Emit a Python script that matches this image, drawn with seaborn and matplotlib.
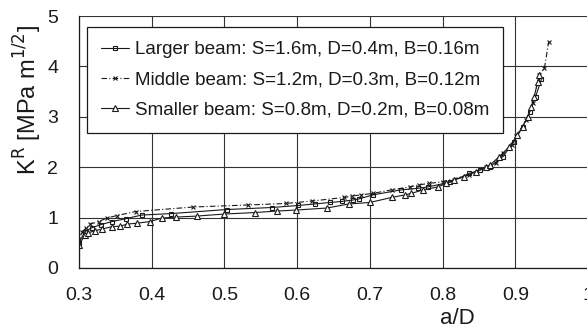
import pandas as pd
import matplotlib
matplotlib.use("Agg")
import matplotlib.pyplot as plt
import seaborn as sns

# values (a/D vs K^R)
larger_x = [0.300, 0.308, 0.318, 0.330, 0.345, 0.365, 0.386, 0.427, 0.503, 0.565,
            0.601, 0.624, 0.645, 0.661, 0.677, 0.685, 0.704, 0.743, 0.766, 0.780,
            0.810, 0.837, 0.851, 0.865, 0.883, 0.898, 0.910, 0.920, 0.928, 0.936]
larger_y = [0.50, 0.72, 0.80, 0.86, 0.92, 0.98, 1.05, 1.08, 1.16, 1.20,
            1.24, 1.27, 1.30, 1.32, 1.35, 1.37, 1.45, 1.55, 1.58, 1.61,
            1.70, 1.88, 1.94, 2.01, 2.21, 2.50, 2.80, 3.10, 3.40, 3.75]

middle_x = [0.300, 0.304, 0.310, 0.315, 0.327, 0.338, 0.352, 0.378, 0.457, 0.532,
            0.584, 0.621, 0.665, 0.676, 0.688, 0.704, 0.730, 0.755, 0.768, 0.782,
            0.800, 0.837, 0.860, 0.874, 0.883, 0.896, 0.901, 0.915, 0.924, 0.933,
            0.940, 0.946]
middle_y = [0.50, 0.72, 0.79, 0.87, 0.92, 0.99, 1.04, 1.12, 1.21, 1.25,
            1.28, 1.33, 1.40, 1.43, 1.45, 1.48, 1.55, 1.61, 1.65, 1.68,
            1.71, 1.85, 2.01, 2.08, 2.28, 2.44, 2.61, 2.94, 3.27, 3.83,
            3.96, 4.49]

smaller_x = [0.300, 0.308, 0.313, 0.322, 0.331, 0.345, 0.357, 0.366, 0.380, 0.397,
             0.414, 0.433, 0.462, 0.499, 0.542, 0.572, 0.599, 0.641, 0.671, 0.700,
             0.730, 0.748, 0.757, 0.773, 0.794, 0.805, 0.816, 0.830, 0.846, 0.860,
             0.865, 0.878, 0.892, 0.903, 0.910, 0.917, 0.922, 0.926, 0.931, 0.933]
smaller_y = [0.46, 0.65, 0.70, 0.74, 0.77, 0.82, 0.83, 0.87, 0.89, 0.92,
             0.99, 1.01, 1.03, 1.07, 1.10, 1.13, 1.15, 1.19, 1.27, 1.30,
             1.40, 1.45, 1.48, 1.55, 1.61, 1.68, 1.75, 1.81, 1.91, 2.01,
             2.04, 2.21, 2.41, 2.64, 2.80, 3.00, 3.20, 3.40, 3.70, 3.83]

labels = ["Larger beam: S=1.6m, D=0.4m, B=0.16m",
          "Middle beam: S=1.2m, D=0.3m, B=0.12m",
          "Smaller beam: S=0.8m, D=0.2m, B=0.08m"]
x_ticks = [0.3, 0.4, 0.5, 0.6, 0.7, 0.8, 0.9, 1.0]
x_tick_labels = ["0.3", "0.4", "0.5", "0.6", "0.7", "0.8", "0.9", "1"]
y_ticks = [0, 1, 2, 3, 4, 5]

sns.set_style("white")
plt.rcParams["font.family"] = ["Liberation Sans", "DejaVu Sans"]

fig = plt.figure(figsize=(5.87, 3.32), dpi=100)
# the original is cropped on the right, so the axes run slightly past the edge
ax = fig.add_axes([0.1346, 0.1928, 0.8671, 0.759])

ink = "#1a1a1a"
sns.lineplot(x=larger_x, y=larger_y, ax=ax, sort=False, color=ink, linewidth=0.8,
             marker="s", markersize=3.5, markerfacecolor="none",
             markeredgecolor=ink, markeredgewidth=0.8, label=labels[0])
sns.lineplot(x=middle_x, y=middle_y, ax=ax, sort=False, color=ink, linewidth=0.8,
             linestyle=(0, (5, 2, 1, 2)), marker="x", markersize=3,
             markeredgecolor=ink, markeredgewidth=0.8, label=labels[1])
sns.lineplot(x=smaller_x, y=smaller_y, ax=ax, sort=False, color=ink, linewidth=0.8,
             marker="^", markersize=5, markerfacecolor="white",
             markeredgecolor=ink, markeredgewidth=0.8, label=labels[2])

ax.set_xlim(0.3, 1.0)
ax.set_ylim(0, 5)
ax.set_xticks(x_ticks)
ax.set_xticklabels(x_tick_labels)
ax.set_yticks(y_ticks)
ax.tick_params(axis="both", labelsize=14, direction="inout", length=6,
               width=0.8, color=ink, labelcolor=ink)
ax.tick_params(axis="x", pad=11)
ax.tick_params(axis="y", pad=12)
ax.grid(True, color="#333333", linewidth=0.8)
for side in ["top", "right"]:
    ax.spines[side].set_visible(False)
for side in ["left", "bottom"]:
    ax.spines[side].set_color(ink)
    ax.spines[side].set_linewidth(0.9)

ax.set_xlabel("a/D", fontsize=16, color=ink)
ax.xaxis.set_label_coords(0.743, -0.16)
ax.set_ylabel(r"K$^{\mathrm{R}}$ [MPa m$^{\mathrm{1/2}}$]", fontsize=17, color=ink)
ax.yaxis.set_label_coords(-0.068, 0.667)

leg = ax.legend(loc="upper left", bbox_to_anchor=(0.0157, 0.956), borderaxespad=0,
                fontsize=13.5, frameon=True, fancybox=False, handlelength=1.5,
                handletextpad=0.3, labelspacing=0.7, borderpad=0.75)
leg.get_frame().set_edgecolor(ink)
leg.get_frame().set_linewidth(0.9)
leg.get_frame().set_alpha(1)
for t in leg.get_texts():
    t.set_color(ink)

fig.savefig("out.png", dpi=100)
